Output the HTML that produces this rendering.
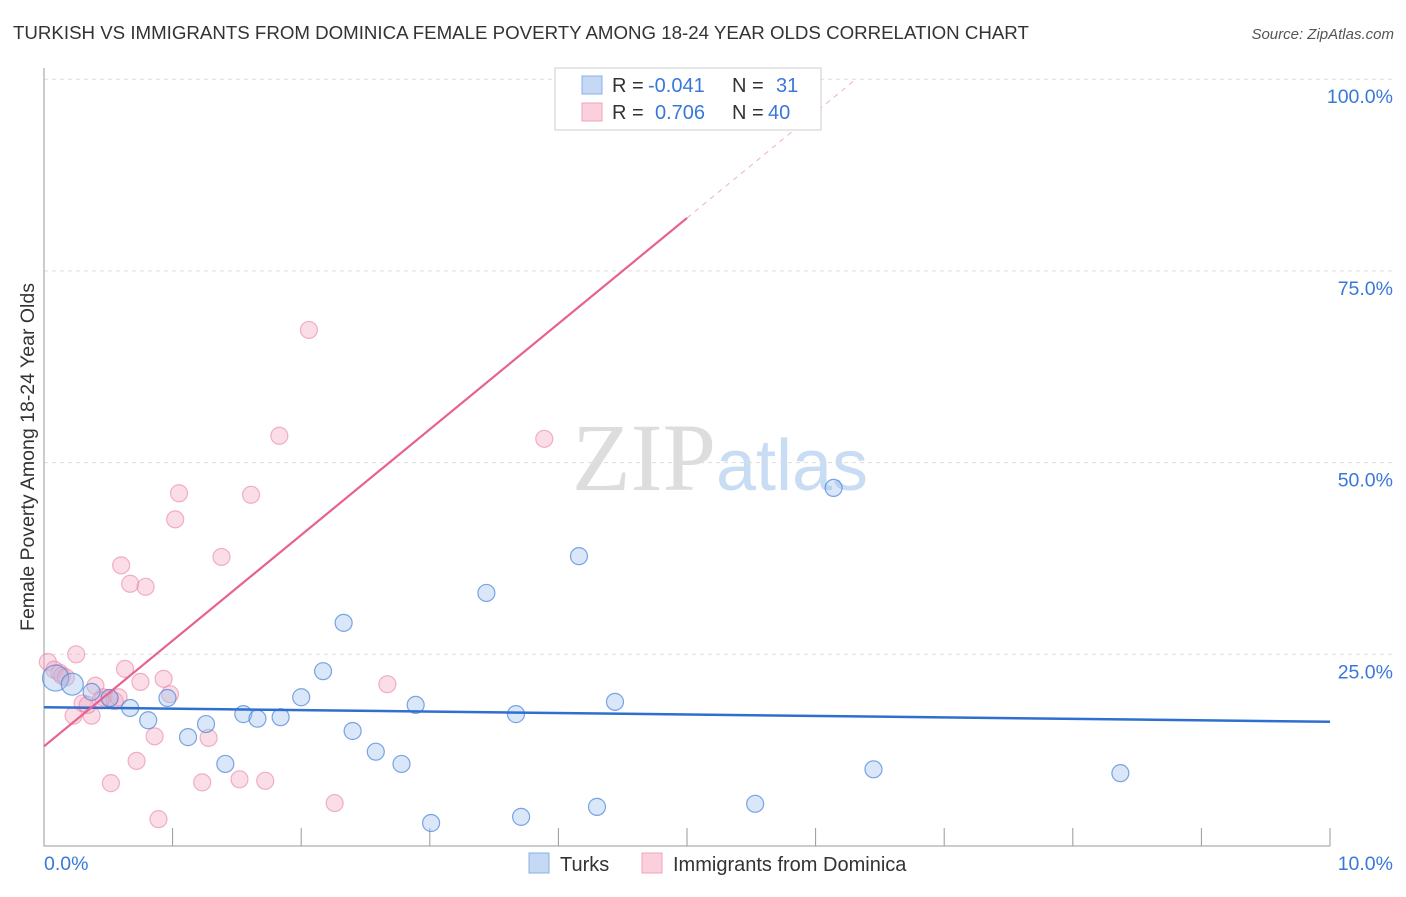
<!DOCTYPE html>
<html><head><meta charset="utf-8"><style>
body{margin:0;background:#fff;font-family:"Liberation Sans",sans-serif;}
svg text{font-family:"Liberation Sans",sans-serif;}
</style></head><body>
<svg id="chart" width="1406" height="892" xmlns="http://www.w3.org/2000/svg">
<text x="13" y="39" font-size="18.7" fill="#333">TURKISH VS IMMIGRANTS FROM DOMINICA FEMALE POVERTY AMONG 18-24 YEAR OLDS CORRELATION CHART</text>
<text x="1394" y="39" font-size="15" fill="#555" text-anchor="end" font-style="italic">Source: ZipAtlas.com</text>
<text x="720" y="490" font-size="96" text-anchor="middle"><tspan fill="#ddd" font-family="Liberation Serif">ZIP</tspan><tspan fill="#c8dcf3" font-size="72">atlas</tspan></text>
<g id="grid"></g>
<g id="axes"></g>
<text transform="translate(34,457) rotate(-90)" font-size="19.5" fill="#333" text-anchor="middle">Female Poverty Among 18-24 Year Olds</text>
<g id="marks"></g>
<g>
<rect x="555" y="68" width="266" height="62" fill="#fff" stroke="#ccc"/>
<rect x="582" y="76" width="20" height="18" fill="#c5d9f5" stroke="#8ab0e6"/>
<text x="612" y="92" font-size="20" fill="#333">R = </text><text x="648" y="92" font-size="20" fill="#3a78d8">-0.041</text>
<text x="732" y="92" font-size="20" fill="#333">N = </text><text x="776" y="92" font-size="20" fill="#3a78d8">31</text>
<rect x="582" y="103" width="20" height="18" fill="#fbd0dc" stroke="#f0a3b9"/>
<text x="612" y="119" font-size="20" fill="#333">R = </text><text x="655" y="119" font-size="20" fill="#3a78d8">0.706</text>
<text x="732" y="119" font-size="20" fill="#333">N = </text><text x="768" y="119" font-size="20" fill="#3a78d8">40</text>
</g>
<g>
<rect x="529" y="853" width="20" height="20" fill="#c5d9f5" stroke="#8ab0e6"/>
<text x="560" y="871" font-size="20" fill="#333">Turks</text>
<rect x="642" y="853" width="20" height="20" fill="#fbd0dc" stroke="#f0a3b9"/>
<text x="673" y="871" font-size="20" fill="#333">Immigrants from Dominica</text>
</g>
</svg>
<script>
const xTicks=[0,1,2,3,4,5,6,7,8,9,10];
const yTicks=[25,50,75,100];
const blueX=[0.09,0.22,0.37,0.51,0.67,0.81,0.96,1.12,1.26,1.41,1.55,1.66,1.84,2.00,2.17,2.33,2.40,2.58,2.78,2.89,3.01,3.44,3.67,3.71,4.16,4.30,4.44,5.53,6.14,6.45,8.37];
const blueY=[21.9,21.1,20.1,19.3,18.0,16.4,19.3,14.2,15.9,10.7,17.2,16.6,16.8,19.4,22.8,29.1,15.0,12.3,10.7,18.4,3.0,33.0,17.2,3.8,37.8,5.1,18.8,5.5,46.7,10.0,9.5];
const pinkX=[0.03,0.08,0.12,0.14,0.17,0.25,0.40,0.46,0.30,0.23,0.37,0.34,0.51,0.55,0.58,0.44,0.63,0.60,0.67,0.79,0.75,0.86,0.72,0.52,0.89,0.93,0.98,1.02,1.05,1.23,1.28,1.38,1.52,1.61,1.72,1.83,2.06,2.26,2.67,3.89];
const pinkY=[24.0,23.0,22.6,22.2,22.0,25.0,20.9,19.4,18.6,17.0,17.0,18.4,19.3,18.9,19.4,19.0,23.1,36.6,34.2,33.8,21.4,14.3,11.1,8.2,3.5,21.8,19.8,42.6,46.0,8.3,14.1,37.7,8.7,45.8,8.5,53.5,67.3,5.6,21.1,53.1];
const blueTrend=[18.1,16.2];
const pinkTrend=[13.0,13.78];
const X=v=>44+v*128.6, Y=v=>846-v*7.668;
const NS="http://www.w3.org/2000/svg";
function mk(parent,tag,attrs){const e=document.createElementNS(NS,tag);for(const k in attrs)e.setAttribute(k,attrs[k]);document.getElementById(parent).appendChild(e);return e;}
yTicks.forEach(t=>{
 const l=mk('grid','line',{x1:44,x2:1393,y1:Y(t),y2:Y(t),stroke:'#ddd','stroke-dasharray':'4,4'});
 
 
 const tx=mk('grid','text',{x:1393,y:Y(t)+24,'font-size':19.5,fill:'#3a78d8','text-anchor':'end'});
 tx.textContent=t.toFixed(1)+'%';
 
 
});
const ax=mk('axes','path',{d:`M44 68V846H1330`,stroke:'#999',fill:'none'});


xTicks.slice(1).forEach(t=>{
 const l=mk('axes','line',{x1:X(t),x2:X(t),y1:828,y2:846,stroke:'#999'});
 
 
});
[[0,'0.0%','start',44],[10,'10.0%','end',1393]].forEach(a=>{
 const tx=mk('axes','text',{x:a[3],y:870,'font-size':19.5,fill:'#3a78d8','text-anchor':a[2]});
 tx.textContent=a[1];
 
 
});
pinkX.forEach((x,i)=>{
 const c=mk('marks','circle',{cx:X(x),cy:Y(pinkY[i]),r:8.5,fill:'rgba(246,170,195,0.4)',stroke:'rgba(233,130,165,0.6)','stroke-width':1.2});
 
 
});
blueX.forEach((x,i)=>{
 const c=mk('marks','circle',{cx:X(x),cy:Y(blueY[i]),r:i==0?13:(i==1?11:8.5),fill:'rgba(160,195,240,0.4)',stroke:'rgba(70,130,215,0.7)','stroke-width':1.2});
 
 
});
const bl=mk('marks','line',{x1:X(0),y1:Y(blueTrend[0]),x2:X(10),y2:Y(blueTrend[1]),stroke:'#2f6fd0','stroke-width':2.5});


const pEnd=5.0, pDash=(100-pinkTrend[0])/pinkTrend[1];
const pl=mk('marks','line',{x1:X(0),y1:Y(pinkTrend[0]),x2:X(pEnd),y2:Y(pinkTrend[0]+pinkTrend[1]*pEnd),stroke:'#e8628f','stroke-width':2.2});


const pd=mk('marks','line',{x1:X(pEnd),y1:Y(pinkTrend[0]+pinkTrend[1]*pEnd),x2:X(pDash),y2:Y(100),stroke:'#f0b0c4','stroke-width':1,'stroke-dasharray':'5,5'});


</script>
</body></html>
